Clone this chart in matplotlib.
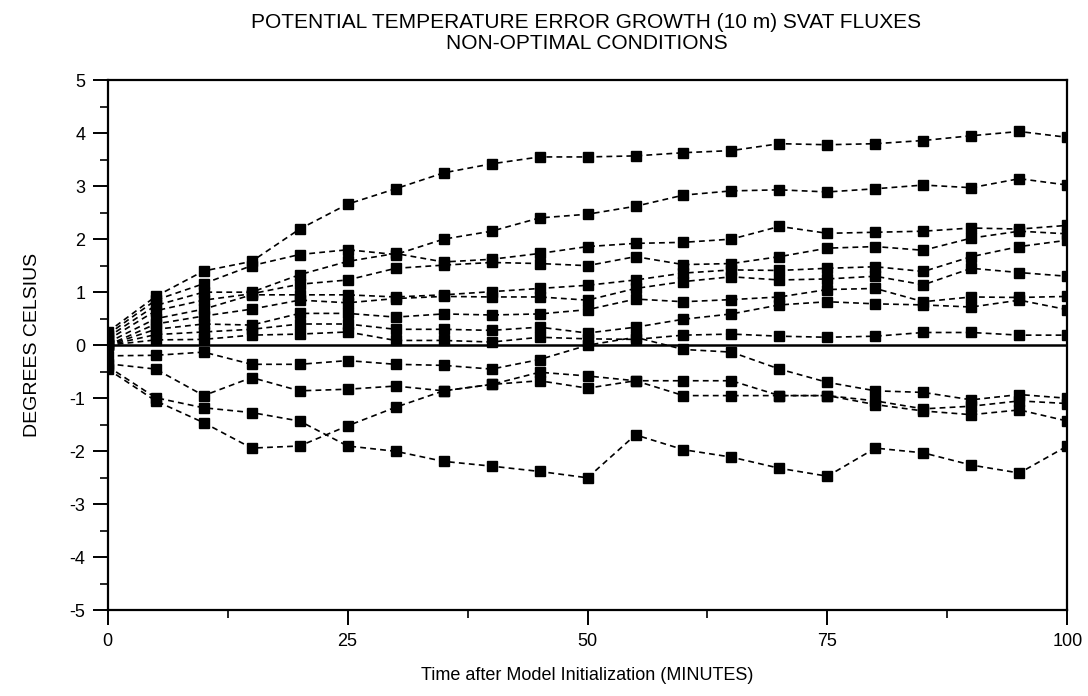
import matplotlib
matplotlib.use("Agg")
import matplotlib.pyplot as plt
from matplotlib.ticker import MultipleLocator

plt.rcParams['font.family'] = ['Liberation Sans', 'DejaVu Sans']
plt.rcParams['axes.unicode_minus'] = False

# time after initialization, minutes
minutes = [0, 5, 10, 15, 20, 25, 30, 35, 40, 45, 50,
           55, 60, 65, 70, 75, 80, 85, 90, 95, 100]

# error growth runs (deg C)
run1 = [0.25, 0.92, 1.40, 1.58, 2.19, 2.66, 2.95, 3.25, 3.42, 3.55, 3.55,
        3.57, 3.63, 3.67, 3.80, 3.78, 3.80, 3.86, 3.95, 4.03, 3.92]
run2 = [0.20, 0.85, 1.16, 1.50, 1.71, 1.80, 1.71, 2.00, 2.15, 2.40, 2.47,
        2.62, 2.83, 2.91, 2.93, 2.89, 2.95, 3.02, 2.97, 3.14, 3.02]
run3 = [0.15, 0.75, 1.00, 1.00, 1.33, 1.58, 1.73, 1.57, 1.62, 1.73, 1.86,
        1.92, 1.94, 2.00, 2.24, 2.11, 2.13, 2.15, 2.21, 2.19, 2.26]
run4 = [0.10, 0.65, 0.85, 0.97, 1.15, 1.23, 1.45, 1.51, 1.56, 1.54, 1.50,
        1.67, 1.52, 1.54, 1.67, 1.83, 1.86, 1.79, 2.02, 2.15, 2.10]
run5 = [0.05, 0.50, 0.68, 0.95, 0.95, 0.95, 0.91, 0.95, 1.01, 1.07, 1.13,
        1.23, 1.36, 1.42, 1.41, 1.45, 1.48, 1.39, 1.67, 1.86, 1.98]
run6 = [0.00, 0.40, 0.55, 0.68, 0.85, 0.80, 0.88, 0.92, 0.91, 0.91, 0.85,
        1.07, 1.20, 1.29, 1.23, 1.25, 1.30, 1.14, 1.45, 1.37, 1.30]
run7 = [0.00, 0.30, 0.40, 0.38, 0.60, 0.60, 0.53, 0.59, 0.57, 0.59, 0.67,
        0.87, 0.82, 0.86, 0.91, 1.05, 1.07, 0.82, 0.91, 0.90, 0.92]
run8 = [0.00, 0.20, 0.25, 0.30, 0.40, 0.40, 0.30, 0.30, 0.28, 0.34, 0.23,
        0.34, 0.49, 0.59, 0.76, 0.82, 0.78, 0.76, 0.72, 0.85, 0.67]
run9 = [0.00, 0.10, 0.11, 0.19, 0.21, 0.25, 0.09, 0.09, 0.06, 0.15, 0.12,
        0.11, 0.19, 0.21, 0.17, 0.15, 0.17, 0.24, 0.24, 0.19, 0.19]
run10 = [-0.20, -0.19, -0.13, -0.36, -0.36, -0.29, -0.36, -0.38, -0.45, -0.27, 0.00,
         0.15, -0.08, -0.13, -0.45, -0.70, -0.86, -0.89, -1.03, -0.93, -1.00]
run11 = [-0.35, -0.45, -0.95, -0.61, -0.86, -0.83, -0.77, -0.86, -0.74, -0.51, -0.58,
         -0.67, -0.67, -0.67, -0.95, -0.95, -1.05, -1.20, -1.15, -1.05, -1.10]
run12 = [-0.40, -0.99, -1.18, -1.27, -1.43, -1.90, -2.00, -2.19, -2.28, -2.38, -2.50,
         -1.69, -1.97, -2.11, -2.32, -2.47, -1.94, -2.03, -2.26, -2.41, -1.90]
run13 = [-0.45, -1.05, -1.46, -1.94, -1.90, -1.52, -1.17, -0.86, -0.74, -0.67, -0.81,
         -0.67, -0.95, -0.95, -0.95, -0.95, -1.12, -1.24, -1.31, -1.22, -1.43]

runs = [run1, run2, run3, run4, run5, run6, run7, run8, run9,
        run10, run11, run12, run13]


def main():
    fig = plt.figure(figsize=(10.88, 6.96), dpi=100)
    ax = fig.add_axes([0.099, 0.123, 0.882, 0.762])

    ax.axhline(0, color="black", lw=1.8, zorder=1)
    for r in runs:
        ax.plot(minutes, r, color="black", lw=1.2, ls=(0, (3.5, 2.5)),
                marker="s", markersize=7, markerfacecolor="black",
                markeredgecolor="black", zorder=2)

    ax.set_xlim(0, 100)
    ax.set_ylim(-5, 5)
    ax.xaxis.set_major_locator(MultipleLocator(25))
    ax.xaxis.set_minor_locator(MultipleLocator(12.5))
    ax.yaxis.set_major_locator(MultipleLocator(1))
    ax.yaxis.set_minor_locator(MultipleLocator(0.5))
    ax.tick_params(which="major", length=11, width=1.4, labelsize=13,
                   direction="out", pad=5)
    ax.tick_params(which="minor", length=6, width=1.2, direction="out")
    for s in ax.spines.values():
        s.set_linewidth(1.6)

    ax.set_xlabel("Time after Model Initialization (MINUTES)", fontsize=13,
                  va="top")
    ax.xaxis.set_label_coords(0.5, -0.106)
    ax.set_ylabel("DEGREES CELSIUS", fontsize=14)
    ax.yaxis.set_label_coords(-0.07, 0.5)

    fig.text(0.539, 0.982, "POTENTIAL TEMPERATURE ERROR GROWTH (10 m) SVAT FLUXES\n"
             "NON-OPTIMAL CONDITIONS", fontsize=15, ha="center", va="top",
             linespacing=1.15)

    fig.savefig("out.png", dpi=100)


if __name__ == "__main__":
    main()
